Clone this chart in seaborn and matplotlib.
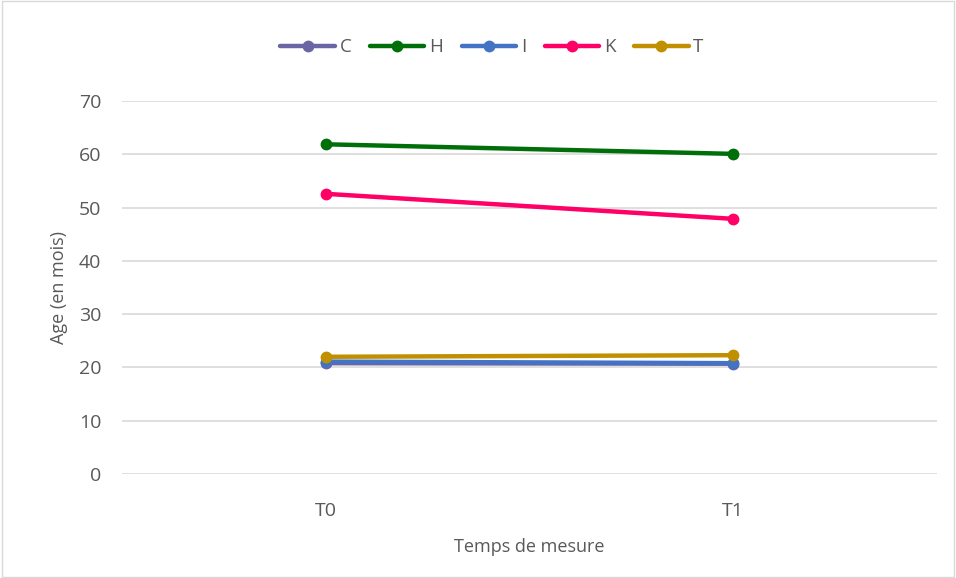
import matplotlib
matplotlib.use("Agg")
import matplotlib.pyplot as plt
import seaborn as sns
import pandas as pd
from matplotlib.patches import Rectangle

# Data
times = ["T0", "T1"]
groups = ["C", "H", "I", "K", "T"]
age_C = [20.8, 20.7]
age_H = [61.9, 60.1]
age_I = [21.1, 20.8]
age_K = [52.6, 47.9]
age_T = [22.0, 22.3]

colors = ["#6A66A3", "#006F0A", "#4472C4", "#FF0066", "#C09000"]

rows = []
for g, vals in zip(groups, [age_C, age_H, age_I, age_K, age_T]):
    for t, v in zip(times, vals):
        rows.append({"Temps": t, "Age": v, "Groupe": g})
df = pd.DataFrame(rows)

sns.set_style("white")
plt.rcParams["font.family"] = ["Open Sans", "DejaVu Sans"]
text_col = "#595959"

fig = plt.figure(figsize=(9.56, 5.78), dpi=100)
ax = fig.add_axes([0.1276, 0.180, 0.8525, 0.645])

sns.lineplot(data=df, x="Temps", y="Age", hue="Groupe", hue_order=groups,
             palette=colors, marker="o", markersize=8.5, linewidth=3.2,
             markeredgewidth=0, sort=False, ax=ax)

ax.set_xlim(-0.5, 1.5)
ax.set_ylim(0, 70)
ax.set_yticks(range(0, 71, 10))
ax.yaxis.grid(True, color="#D9D9D9", linewidth=1.2)
ax.set_axisbelow(True)
for s in ax.spines.values():
    s.set_visible(False)
ax.tick_params(axis="both", length=0, labelsize=14, labelcolor=text_col)
ax.tick_params(axis="y", pad=15)
ax.tick_params(axis="x", pad=20)
ax.set_ylabel("Age (en mois)", fontsize=13, color=text_col, labelpad=8)
ax.set_xlabel("Temps de mesure", fontsize=13, color=text_col, labelpad=13)

leg = ax.legend(loc="center", bbox_to_anchor=(0.454, 1.145), ncol=5, frameon=False,
                fontsize=13.5, handlelength=2.9, columnspacing=1.0, handletextpad=0.25)
for t in leg.get_texts():
    t.set_color(text_col)

fig.patches.append(Rectangle((0.002, 0.002), 0.996, 0.996, transform=fig.transFigure,
                             fill=False, edgecolor="#D9D9D9", linewidth=1))

fig.savefig("out.png", dpi=100)
